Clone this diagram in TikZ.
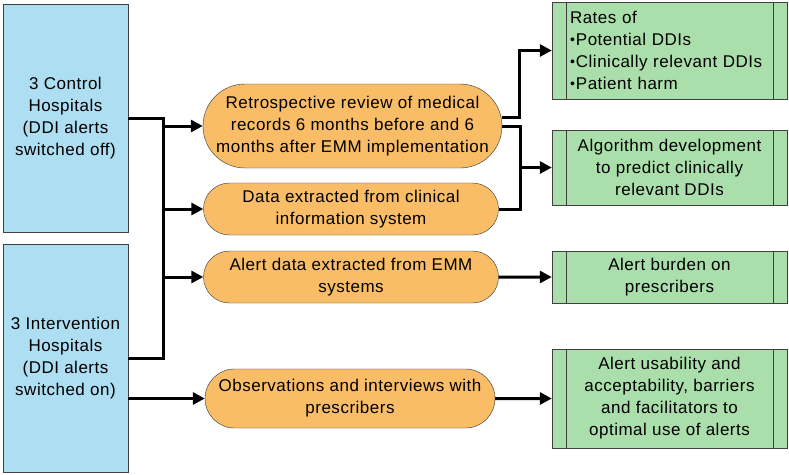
\documentclass[tikz,border=0pt]{standalone}
\usepackage{fontspec}
\setmainfont[LetterSpace=3]{Liberation Sans}
\usetikzlibrary{shapes.misc,arrows.meta}

\definecolor{hospblue}{RGB}{174,222,242}
\definecolor{srcorange}{RGB}{249,189,104}
\definecolor{outgreen}{RGB}{170,222,170}

\newcommand{\smallbullet}{\raisebox{1.2pt}{\fontsize{14}{14}\selectfont\textbullet}\hspace{1pt}}

\begin{document}
\begin{tikzpicture}[x=1pt,y=-1pt,font=\fontsize{17}{22}\selectfont]

\def\srcx{351}
\def\outx{669.5}

\tikzstyle{hospital}=[rectangle,draw=black!75,fill=hospblue,minimum width=125pt,minimum height=228pt,inner sep=0pt,align=center]
\tikzstyle{source}=[rounded rectangle,draw=black!80,fill=srcorange,minimum width=295pt,minimum height=52pt,inner sep=0pt,align=center]
\tikzstyle{outcome}=[rectangle,draw=black!75,fill=outgreen,minimum width=235pt,minimum height=52pt,inner sep=0pt,align=center,
  path picture={\draw[black!75,line width=0.8pt] ([xshift=14pt]path picture bounding box.north west) -- ([xshift=14pt]path picture bounding box.south west);
  \draw[black!75,line width=0.8pt] ([xshift=-14pt]path picture bounding box.north east) -- ([xshift=-14pt]path picture bounding box.south east);}]
\tikzstyle{link}=[line width=3pt]
\tikzstyle{arrow}=[link,-{Triangle[length=12pt,width=12pt]}]

\useasboundingbox (0,0) rectangle (789,474);

%hospitals
\node[hospital] (ctrl) at (65.5,118) {3 Control\\Hospitals\\(DDI alerts\\switched off)};
\node[hospital] (intv) at (65.5,358) {3 Intervention\\Hospitals\\(DDI alerts\\switched on)};

%data sources
\node[source,minimum width=299pt,minimum height=84pt] (retro) at (352.5,126) {Retrospective review of medical\\records 6 months before and 6\\months after EMM implementation};
\node[source] (data) at (\srcx,209) {Data extracted from clinical\\information system};
\node[source] (alert) at (\srcx,277) {Alert data extracted from EMM\\systems};
\node[source,minimum width=290pt,minimum height=59pt] (obs) at (350,398.5) {Observations and interviews with\\prescribers};

%outcomes
\node[outcome,minimum height=97pt,text width=199pt,align=left] (rates) at (\outx,50.5) {Rates of\\\smallbullet Potential DDIs\\\smallbullet Clinically relevant DDIs\\\smallbullet Patient harm};
\node[outcome,minimum height=75pt] (algo) at (\outx,167.5) {Algorithm development\\to predict clinically\\relevant DDIs};
\node[outcome] (burden) at (\outx,277) {Alert burden on\\prescribers};
\node[outcome,minimum height=99pt] (usab) at (\outx,398.5) {Alert usability and\\acceptability, barriers\\and facilitators to\\optimal use of alerts};

%connections
\coordinate (bus) at (163,118);
\draw[link] (ctrl.east) -- (bus) |- (intv.east);
\draw[arrow] (bus |- retro.west) -- (retro.west);
\draw[arrow] (bus |- data.west) -- (data.west);
\draw[arrow] (bus |- alert.west) -- (alert.west);
\draw[arrow] (intv.east |- obs.west) -- (obs.west);

\draw[arrow] ([yshift=9pt]retro.east) -- ++(17,0) |- (rates.west);
\draw[link] (retro.east) -- ++(18,0) coordinate (join) |- (data.east);
\draw[arrow] (join |- algo.west) -- (algo.west);
\draw[arrow] (alert) -- (burden);
\draw[arrow] (obs) -- (usab);

\end{tikzpicture}
\end{document}
